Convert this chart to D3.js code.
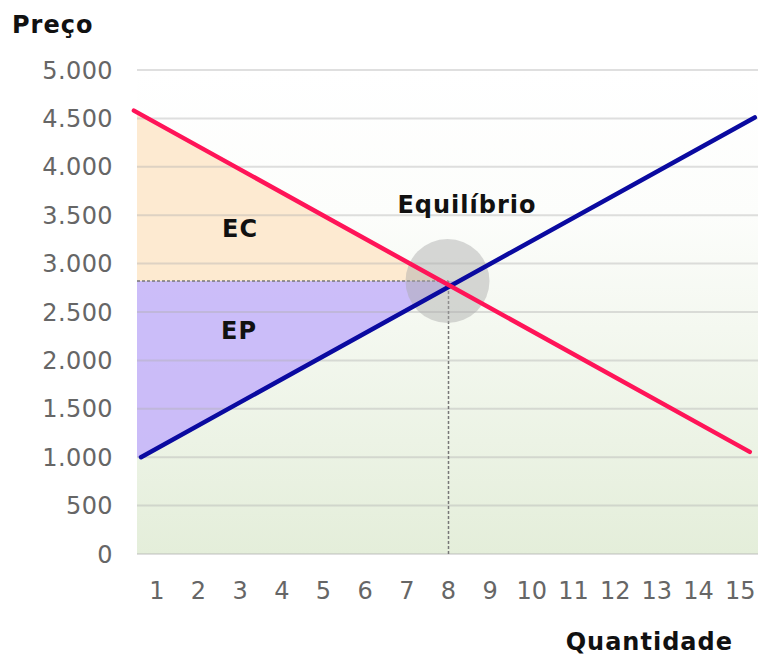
<!DOCTYPE html>
<html>
<head>
<meta charset="utf-8">
<script src="https://cdn.jsdelivr.net/npm/d3@7"></script>
<style>
  body { margin: 0; background: #fff; }
  text { font-family: "DejaVu Sans", Verdana, sans-serif; }
</style>
</head>
<body>
<div id="chart"></div>
<script>
// Data
const quantities = [1, 2, 3, 4, 5, 6, 7, 8, 9, 10, 11, 12, 13, 14, 15];
const priceTicks = [0, 500, 1000, 1500, 2000, 2500, 3000, 3500, 4000, 4500, 5000];
const demandQ = [0.45, 15.23];
const demandP = [4580, 1055];
const supplyQ = [0.62, 15.35];
const supplyP = [1000, 4510];
const eqQty = 8;
const eqPrice = 2820;
const labels = { y: "Preço", x: "Quantidade", eq: "Equilíbrio", ec: "EC", ep: "EP" };

const width = 758, height = 657;
const margin = { top: 70, right: 0, bottom: 103, left: 137 };

const svg = d3.select("#chart").append("svg")
    .attr("width", width)
    .attr("height", height);

const x = d3.scaleLinear().domain([0.5, 15.5]).range([136, 761]);
const y = d3.scaleLinear().domain([0, 5000]).range([554, 70]);

const loc = d3.formatLocale({ decimal: ",", thousands: ".", grouping: [3], currency: ["R$", ""] });
const fmt = loc.format(",");

// Background gradient
const defs = svg.append("defs");
const grad = defs.append("linearGradient")
    .attr("id", "bg").attr("x1", 0).attr("y1", 0).attr("x2", 0).attr("y2", 1);
grad.append("stop").attr("offset", "0%").attr("stop-color", "#ffffff");
grad.append("stop").attr("offset", "30%").attr("stop-color", "#fcfdfb");
grad.append("stop").attr("offset", "100%").attr("stop-color", "#e4eeda");

svg.append("rect")
    .attr("x", margin.left).attr("y", y(5000))
    .attr("width", width - margin.left).attr("height", y(0) - y(5000))
    .attr("fill", "url(#bg)");

// Helpers for the two lines
const lineAt = (qs, ps, q) => ps[0] + (ps[1] - ps[0]) * (q - qs[0]) / (qs[1] - qs[0]);
const qAtPrice = (qs, ps, p) => qs[0] + (qs[1] - qs[0]) * (p - ps[0]) / (ps[1] - ps[0]);

const q0 = x.invert(margin.left);
const qDem = qAtPrice(demandQ, demandP, eqPrice);
const qSup = qAtPrice(supplyQ, supplyP, eqPrice);

// Surplus areas
const poly = d3.line().x(d => x(d[0])).y(d => y(d[1]));
svg.append("path")
    .attr("d", poly([[q0, lineAt(demandQ, demandP, q0)], [qDem, eqPrice], [q0, eqPrice]]) + "Z")
    .attr("fill", "#fde8cc").attr("fill-opacity", 0.9);
svg.append("path")
    .attr("d", poly([[q0, eqPrice], [qSup, eqPrice], [supplyQ[0], supplyP[0]], [q0, supplyP[0]]]) + "Z")
    .attr("fill", "#c6b6fa").attr("fill-opacity", 0.9);

// Grid lines
svg.append("g").selectAll("line")
    .data(priceTicks)
    .join("line")
    .attr("x1", margin.left).attr("x2", width)
    .attr("y1", d => y(d)).attr("y2", d => y(d))
    .attr("stroke", "#b0b0b0").attr("stroke-opacity", 0.4).attr("stroke-width", 2);

// Y axis labels
svg.append("g").selectAll("text")
    .data(priceTicks)
    .join("text")
    .attr("x", 113).attr("y", d => y(d))
    .attr("dy", "0.36em")
    .attr("text-anchor", "end")
    .attr("font-size", 24)
    .attr("letter-spacing", 0.4)
    .attr("fill", "#666")
    .text(d => fmt(d));

// X axis labels
svg.append("g").selectAll("text")
    .data(quantities)
    .join("text")
    .attr("x", d => x(d)).attr("y", 599)
    .attr("text-anchor", "middle")
    .attr("font-size", 24)
    .attr("fill", "#666")
    .text(d => d);

// Equilibrium dashed guides
svg.append("line")
    .attr("x1", margin.left).attr("x2", x(eqQty))
    .attr("y1", y(eqPrice)).attr("y2", y(eqPrice))
    .attr("stroke", "#777").attr("stroke-width", 1.5).attr("stroke-dasharray", "3,2");
svg.append("line")
    .attr("x1", x(eqQty)).attr("x2", x(eqQty))
    .attr("y1", y(eqPrice)).attr("y2", y(0))
    .attr("stroke", "#777").attr("stroke-width", 1.5).attr("stroke-dasharray", "3,2");

// Equilibrium circle
svg.append("circle")
    .attr("cx", x(eqQty) - 1).attr("cy", y(eqPrice))
    .attr("r", 42)
    .attr("fill", "#a8a8a8").attr("fill-opacity", 0.45);

// Supply and demand lines
const ln = d3.line().x(d => x(d[0])).y(d => y(d[1]));
svg.append("path")
    .attr("d", ln(d3.zip(supplyQ, supplyP)))
    .attr("stroke", "#0a0aa0").attr("stroke-width", 4.5)
    .attr("stroke-linecap", "round").attr("fill", "none");
svg.append("path")
    .attr("d", ln(d3.zip(demandQ, demandP)))
    .attr("stroke", "#ff1458").attr("stroke-width", 4.5)
    .attr("stroke-linecap", "round").attr("fill", "none");

// Titles and labels
const bold = (t, px, py, anchor) => svg.append("text")
    .attr("x", px).attr("y", py)
    .attr("text-anchor", anchor || "start")
    .attr("font-size", 24).attr("font-weight", "bold")
    .attr("letter-spacing", 1)
    .attr("fill", "#111")
    .text(t);

bold(labels.y, 12, 33);
bold(labels.x, 733, 650, "end");
bold(labels.eq, 467, 213, "middle");
bold(labels.ec, 240, 237, "middle");
bold(labels.ep, 239, 339, "middle");
</script>
</body>
</html>
